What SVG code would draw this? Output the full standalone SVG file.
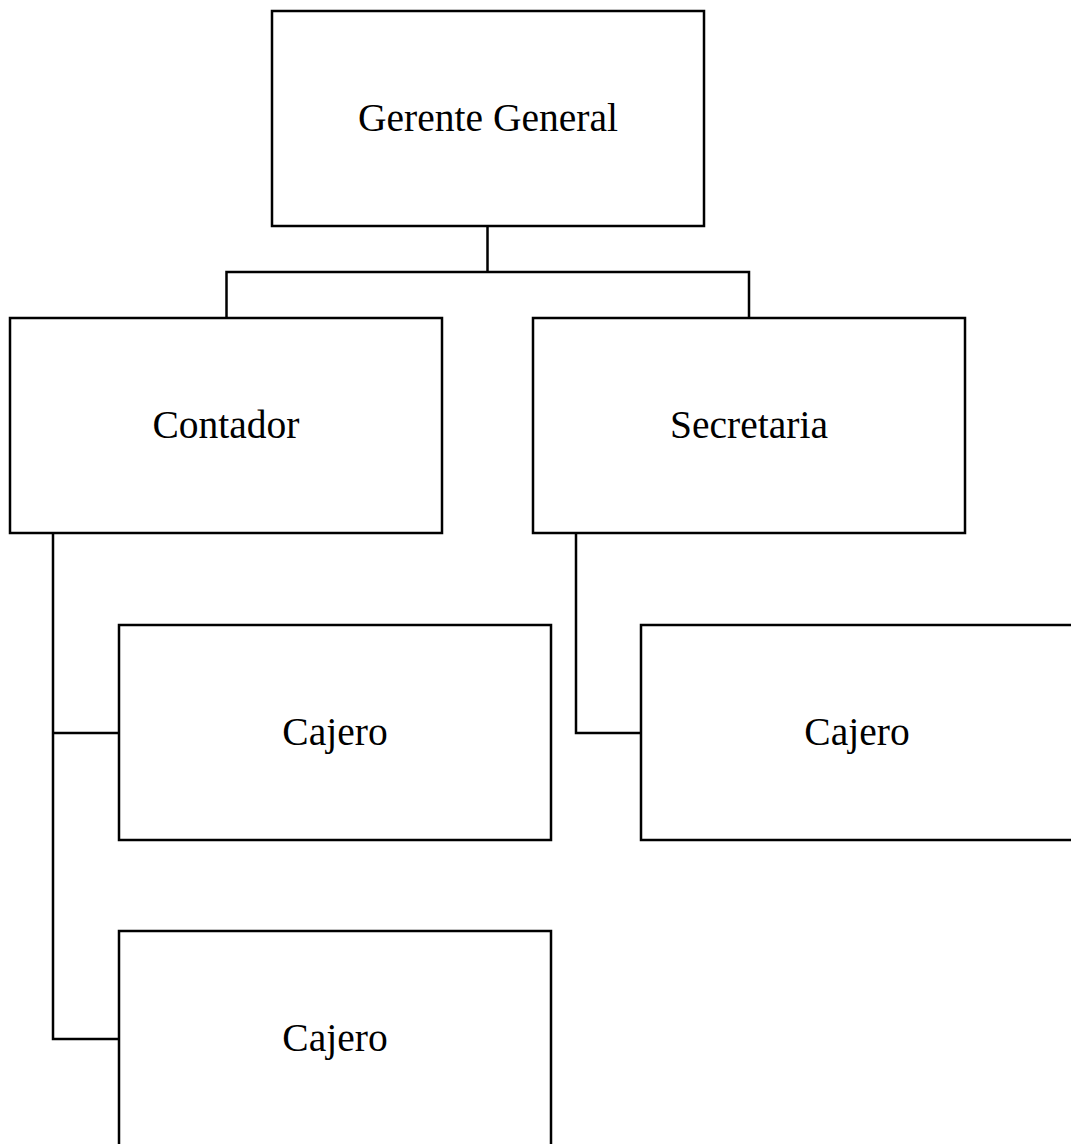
<svg xmlns="http://www.w3.org/2000/svg" width="1071" height="1144" viewBox="0 0 1071 1144">
<style>
.box{fill:#fff;stroke:#000;stroke-width:2.5}
.lbl{font-family:"Liberation Serif","Times New Roman",serif;font-size:39.5px;fill:#000;text-anchor:middle}
.con{fill:none;stroke:#000;stroke-width:2.5}
</style>
<rect width="1071" height="1144" fill="#fff"/>
<g id="connectors">
<path class="con" d="M487.5,226 V272 M226.5,318 V272 H749 V318"/>
<path class="con" d="M53,533 V1039 H119 M53,733 H119"/>
<path class="con" d="M576,533 V733 H641"/>
</g>
<g id="gerente"><rect class="box" x="272" y="11" width="432" height="215"/><text class="lbl" x="488" y="131">Gerente General</text></g>
<g id="contador"><rect class="box" x="10" y="318" width="432" height="215"/><text class="lbl" x="226" y="438">Contador</text></g>
<g id="secretaria"><rect class="box" x="533" y="318" width="432" height="215"/><text class="lbl" x="749" y="438">Secretaria</text></g>
<g id="cajero1"><rect class="box" x="119" y="625" width="432" height="215"/><text class="lbl" x="335" y="745">Cajero</text></g>
<g id="cajero2"><rect class="box" x="641" y="625" width="432" height="215"/><text class="lbl" x="857" y="745">Cajero</text></g>
<g id="cajero3"><rect class="box" x="119" y="931" width="432" height="215"/><text class="lbl" x="335" y="1051">Cajero</text></g>
</svg>
